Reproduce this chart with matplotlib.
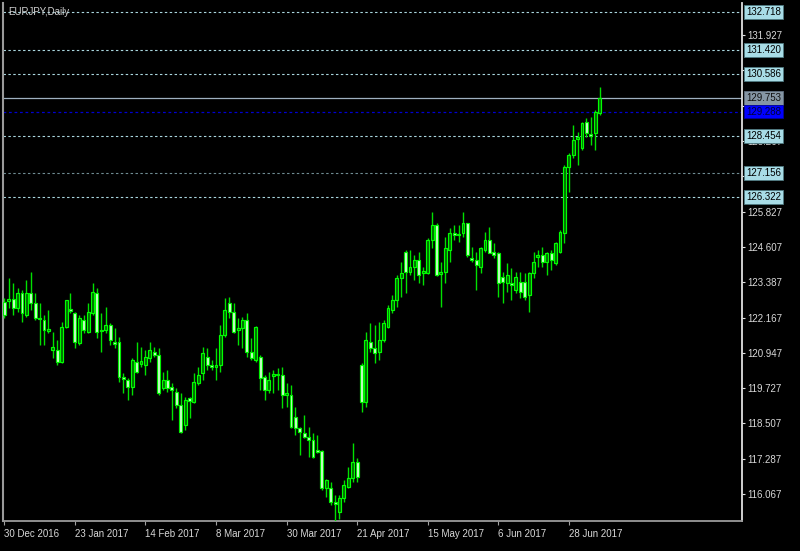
import matplotlib
matplotlib.use('Agg')
import matplotlib.pyplot as plt
import numpy as np
import pandas as pd

# ---------------- data ----------------
dates = pd.bdate_range('2016-12-30', periods=136)

open_ = [122.70, 122.74, 122.81, 122.50, 123.01, 122.26, 123.01, 122.67, 122.15, 122.08,
         121.70, 121.05, 121.05, 120.63, 121.84, 122.46, 122.32, 121.29, 122.08, 121.67,
         122.32, 123.01, 121.74, 121.74, 121.91, 121.32, 121.32, 120.11, 120.01, 119.77,
         120.63, 120.56, 120.53, 120.77, 120.98, 120.87, 119.73, 120.01, 119.77, 119.59,
         119.14, 118.45, 119.39, 119.25, 119.90, 120.25, 120.80, 120.53, 120.46, 120.53,
         121.56, 122.67, 122.36, 121.74, 121.81, 122.08, 120.98, 120.70, 120.80, 120.11,
         119.66, 120.15, 120.22, 120.18, 119.49, 119.49, 118.73, 118.35, 118.18, 118.04,
         117.93, 117.59, 117.55, 116.27, 116.27, 115.79, 115.45, 115.93, 116.31, 116.62,
         117.17, 120.53, 119.25, 121.32, 121.11, 120.98, 121.39, 121.84, 122.43, 122.77,
         123.53, 124.43, 123.74, 123.91, 124.16, 123.71, 123.71, 124.85, 125.37, 123.67,
         123.74, 124.50, 125.09, 125.02, 125.09, 125.43, 124.22, 124.16, 123.91, 124.50,
         124.85, 124.43, 124.40, 123.57, 123.36, 123.36, 123.12, 123.40, 123.40, 122.95,
         123.71, 124.26, 124.33, 124.09, 124.40, 124.05, 124.43, 125.09, 127.37, 127.79,
         128.34, 128.03, 128.93, 128.51, 128.55, 129.24]
high = [122.84, 123.53, 123.36, 123.19, 123.12, 123.46, 123.74, 123.01, 122.67, 122.26,
        122.43, 121.67, 121.39, 122.01, 122.77, 123.01, 122.36, 122.26, 122.26, 122.67,
        123.36, 123.19, 122.32, 122.53, 121.98, 121.81, 121.49, 120.25, 120.08, 120.77,
        121.32, 121.15, 121.05, 121.32, 121.15, 121.11, 120.28, 120.35, 119.90, 119.73,
        119.56, 119.42, 119.42, 120.25, 120.46, 121.15, 121.11, 120.70, 121.11, 121.91,
        122.84, 122.88, 122.67, 122.15, 122.19, 122.32, 121.46, 121.86, 120.87, 120.18,
        120.28, 120.35, 120.42, 120.46, 119.90, 119.84, 119.08, 118.38, 118.80, 118.38,
        118.18, 118.11, 117.59, 116.58, 116.48, 116.03, 116.03, 116.55, 117.00, 117.83,
        117.31, 120.60, 121.67, 121.98, 121.91, 122.01, 122.08, 122.60, 122.95, 123.64,
        124.09, 124.50, 124.50, 124.33, 124.43, 123.91, 124.92, 125.81, 125.43, 124.09,
        124.95, 125.26, 125.37, 125.37, 125.81, 125.45, 124.60, 124.43, 124.60, 125.12,
        125.30, 124.74, 124.42, 123.74, 124.05, 123.88, 123.74, 123.74, 123.71, 123.74,
        124.43, 124.50, 124.60, 124.43, 124.50, 124.78, 125.19, 127.44, 127.85, 128.82,
        128.58, 128.93, 129.06, 129.10, 129.34, 130.14]
low = [122.15, 122.50, 122.26, 122.36, 122.01, 122.19, 122.43, 122.08, 121.22, 121.22,
       121.63, 120.77, 120.53, 120.60, 121.81, 122.32, 121.11, 121.22, 121.63, 121.63,
       122.26, 121.46, 120.98, 121.63, 121.22, 121.11, 119.94, 119.56, 119.32, 119.49,
       120.25, 120.46, 120.18, 120.63, 120.80, 119.49, 119.66, 119.59, 118.63, 119.04,
       118.18, 118.28, 118.69, 119.21, 119.84, 120.01, 120.35, 120.35, 120.01, 120.28,
       121.49, 122.15, 121.63, 121.22, 121.11, 120.80, 120.70, 120.63, 119.66, 119.32,
       119.56, 119.56, 119.66, 119.04, 119.08, 118.35, 118.11, 117.42, 118.00, 117.35,
       117.31, 117.48, 116.21, 115.96, 115.69, 114.89, 115.20, 115.79, 116.28, 116.48,
       116.48, 118.90, 119.08, 120.98, 120.60, 120.70, 121.32, 121.81, 122.32, 122.53,
       122.88, 123.01, 123.64, 123.46, 123.36, 123.29, 123.68, 124.57, 123.60, 122.53,
       123.36, 124.09, 124.85, 124.78, 124.95, 124.26, 124.09, 123.12, 123.71, 124.43,
       124.40, 124.22, 122.88, 122.67, 123.05, 122.77, 123.01, 122.84, 122.77, 122.36,
       123.53, 123.91, 123.91, 123.64, 123.81, 123.98, 124.40, 124.74, 126.51, 127.68,
       127.44, 127.96, 128.41, 128.13, 127.96, 129.17]
close = [122.26, 122.81, 122.50, 123.01, 122.32, 123.01, 122.67, 122.15, 122.12, 121.74,
         121.77, 121.15, 120.63, 121.84, 122.77, 122.39, 121.32, 122.15, 121.74, 122.36,
         123.05, 121.67, 121.70, 121.91, 121.39, 121.25, 120.11, 120.04, 119.77, 120.70,
         120.28, 120.66, 120.80, 121.05, 120.87, 119.56, 120.01, 119.73, 119.66, 119.14,
         118.21, 119.32, 119.28, 119.94, 120.18, 120.94, 120.53, 120.46, 120.53, 121.56,
         122.43, 122.36, 121.67, 121.81, 122.08, 120.98, 120.77, 121.84, 120.08, 119.66,
         120.01, 120.22, 120.18, 119.49, 119.56, 118.38, 118.35, 118.21, 118.04, 117.93,
         117.35, 117.52, 116.27, 116.55, 115.79, 115.72, 115.93, 116.38, 116.62, 117.17,
         116.66, 119.25, 121.39, 121.11, 120.94, 121.39, 121.98, 122.50, 122.77, 123.53,
         123.71, 123.74, 123.91, 124.16, 123.64, 123.78, 124.85, 125.37, 123.64, 123.74,
         124.57, 125.09, 125.02, 125.05, 125.43, 124.33, 124.16, 123.98, 124.57, 124.85,
         124.40, 124.33, 123.36, 123.40, 123.64, 123.29, 123.57, 123.05, 122.88, 123.71,
         124.09, 124.33, 124.09, 124.40, 124.16, 124.74, 125.12, 127.37, 127.79, 128.30,
         128.41, 128.89, 128.55, 128.44, 129.27, 129.76]

level_prices = [132.718, 131.420, 130.586, 128.454, 127.156, 126.322]
level_labels = ['132.718', '131.420', '130.586', '128.454', '127.156', '126.322']
solid_price, solid_label = 129.753, '129.753'
bid_price, bid_label = 129.288, '129.288'

# scale ticks that stay visible (the rest sit under the boxed labels)
price_ticks = [116.067, 117.287, 118.507, 119.727, 120.947, 122.167, 123.387,
               124.607, 125.827, 127.047, 128.267, 131.927]
price_tick_labels = ['116.067', '117.287', '118.507', '119.727', '120.947', '122.167',
                     '123.387', '124.607', '125.827', '127.047', '128.267', '131.927']
hidden_ticks = [129.487, 130.707]

date_tick_idx = [0, 16, 32, 48, 64, 80, 96, 112, 128]
date_tick_labels = ['30 Dec 2016', '23 Jan 2017', '14 Feb 2017', '8 Mar 2017',
                    '30 Mar 2017', '21 Apr 2017', '15 May 2017', '6 Jun 2017',
                    '28 Jun 2017']
title = 'EURJPY,Daily'

# ---------------- figure ----------------
W, H = 800, 551
fig = plt.figure(figsize=(W / 100, H / 100), dpi=100, facecolor='black')
ax = fig.add_axes([3 / W, 30 / H, 739 / W, 518 / H])
ax.set_facecolor('black')

font = 'Liberation Sans'
fs = 7

o = np.array(open_); h = np.array(high); l = np.array(low); c = np.array(close)
x = np.arange(len(o))
bull = c >= o

ax.vlines(x, l, h, color='#00e000', lw=1.0, zorder=3)
bottoms = np.minimum(o, c)
heights = np.maximum(np.abs(c - o), 0.02)
ax.bar(x[bull], heights[bull], bottom=bottoms[bull], width=0.66,
       color='#006a00', edgecolor='#00ff00', lw=0.85, zorder=4)
ax.bar(x[~bull], heights[~bull], bottom=bottoms[~bull], width=0.66,
       color='#d0ffd0', edgecolor='#00f000', lw=0.85, zorder=4)

ymin, ymax = 115.134, 133.04
ax.set_ylim(ymin, ymax)
ax.set_xlim(-0.3, -0.3 + 739 / 4.41)

# horizontal level lines
for p in level_prices:
    col = '#6f8c92' if p == 127.156 else '#a9d6de'
    ax.axhline(p, color=col, lw=0.8, ls=(0, (2.2, 2.2)), zorder=1)
ax.axhline(solid_price, color='#9fb0c0', lw=0.9, zorder=1)
ax.axhline(bid_price, color='#0000d0', lw=0.9, ls=(0, (2.2, 2.2)), zorder=1)

# axes styling
ax.spines['top'].set_visible(False)
ax.spines['left'].set_color('#9a9a9a'); ax.spines['left'].set_linewidth(1.5)
ax.spines['bottom'].set_color('#9a9a9a'); ax.spines['bottom'].set_linewidth(1.3)
ax.spines['right'].set_color('#e0e0e0'); ax.spines['right'].set_linewidth(1.3)

ax.yaxis.tick_right()
ax.set_yticks(price_ticks)
ax.set_yticklabels(price_tick_labels, fontfamily=font, fontsize=fs, color='#d8d8d8')
ax.set_yticks(hidden_ticks, minor=True)
ax.tick_params(axis='y', which='both', colors='#e0e0e0', length=2.2, width=0.8,
               pad=1.5, labelcolor='#d8d8d8')
for t in ax.get_yticklabels():
    t.set_zorder(2)
ax.set_xticks(date_tick_idx)
ax.set_xticklabels(date_tick_labels, fontfamily=font, fontsize=fs, color='#d8d8d8',
                   ha='left')
ax.tick_params(axis='x', colors='#a0a0a0', length=3, width=0.8, pad=3,
               labelcolor='#d8d8d8')

# boxed price labels
tr = ax.get_yaxis_transform()
def boxed(p, txt, fc, tc, ec):
    ax.text(1.0 + 4 / 739, p, txt, transform=tr, fontfamily=font, fontsize=fs,
            color=tc, va='center', ha='left', zorder=10, clip_on=False,
            bbox=dict(boxstyle='square,pad=0.2', fc=fc, ec=ec, lw=0.6))

for p, t in zip(level_prices, level_labels):
    boxed(p, t, '#a8dce6', '#000000', '#507a82')
boxed(solid_price, solid_label, '#8696a4', '#101010', '#607080')
boxed(bid_price, bid_label, '#0000ff', '#00003a', '#0000a0')

ax.text(5 / 739, 1 - 9 / 518, title, transform=ax.transAxes, fontfamily=font,
        fontsize=fs, color='#d0d0d0', va='center', ha='left', zorder=11)

fig.savefig('out.png', dpi=100, facecolor='black')
